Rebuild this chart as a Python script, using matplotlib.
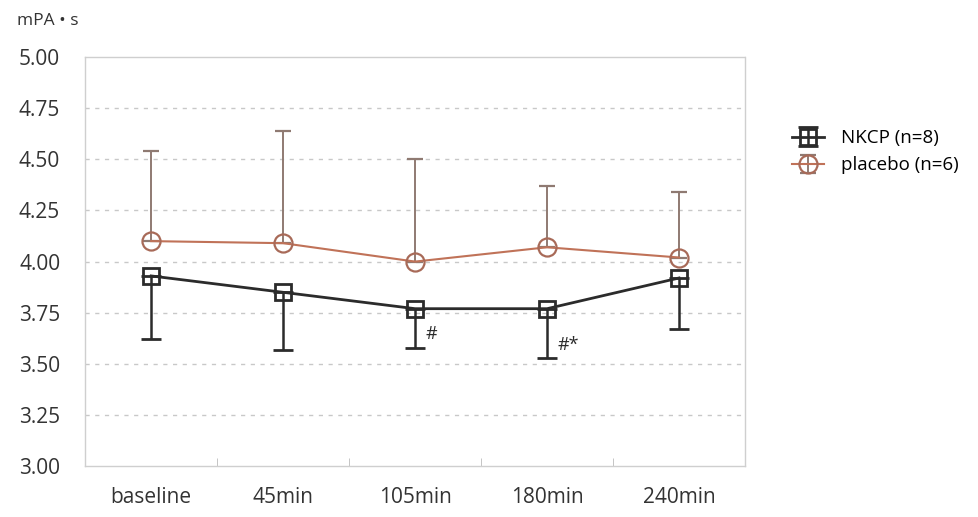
import matplotlib.pyplot as plt
import numpy as np

plt.rcParams['font.family'] = ['Open Sans', 'DejaVu Sans']

# data
times = ['baseline', '45min', '105min', '180min', '240min']
nkcp_mean = [3.93, 3.85, 3.77, 3.77, 3.92]
nkcp_lower = [3.62, 3.57, 3.58, 3.53, 3.67]
placebo_mean = [4.10, 4.09, 4.00, 4.07, 4.02]
placebo_upper = [4.54, 4.64, 4.50, 4.37, 4.34]
yticks = [3.00, 3.25, 3.50, 3.75, 4.00, 4.25, 4.50, 4.75, 5.00]

x = np.arange(len(times))
nkcp_err = np.array(nkcp_mean) - np.array(nkcp_lower)
placebo_err = np.array(placebo_upper) - np.array(placebo_mean)

fig = plt.figure(figsize=(9.79, 5.17), dpi=100)
ax = fig.add_axes([0.087, 0.098, 0.674, 0.792])

dark = '#2b2b2b'
orange = '#c07258'

# dashed grid
for y in yticks[1:-1]:
    ax.axhline(y, color='#c8c8c8', lw=1.0, ls=(0, (3, 4)), zorder=0)

ax.errorbar(x, placebo_mean, yerr=[np.zeros(len(x)), placebo_err],
            color=orange, ecolor='#8f7a72', lw=1.5, elinewidth=1.4,
            capsize=6, capthick=1.6, marker='o', ms=13, mfc='none',
            mec='#a86a58', mew=1.6, label='placebo (n=6)', zorder=3)
ax.errorbar(x, nkcp_mean, yerr=[nkcp_err, np.zeros(len(x))],
            color=dark, ecolor=dark, lw=2.0, elinewidth=1.8,
            capsize=7, capthick=2.0, marker='s', ms=11, mfc='none',
            mec=dark, mew=2.0, label='NKCP (n=8)', zorder=4)

ax.text(2.08, 3.62, '#', fontsize=13, color=dark)
ax.text(3.08, 3.57, '#*', fontsize=13, color=dark)

ax.set_xlim(-0.5, 4.5)
ax.set_ylim(3.0, 5.0)
ax.set_yticks(yticks)
ax.set_yticklabels(['%.2f' % v for v in yticks], fontsize=15, color='#333333')
ax.tick_params(axis='y', length=0, pad=18)
ax.set_xticks(x)
ax.set_xticklabels(times, fontsize=15, color='#333333')
ax.tick_params(axis='x', length=0, pad=15)
ax.set_xticks(x[:-1] + 0.5, minor=True)
ax.tick_params(axis='x', which='minor', direction='in', length=6, color='#bbbbbb')

for s in ax.spines.values():
    s.set_color('#cfcfcf')
    s.set_linewidth(1.0)
    s.set_linestyle((0, (1, 1)))
ax.spines['bottom'].set_linestyle('-')

fig.text(0.017, 0.952, 'mPA \u2022 s', fontsize=12.5, color='#333333')

handles, labels = ax.get_legend_handles_labels()
leg = fig.legend(handles[::-1], labels[::-1], loc='upper left',
                 bbox_to_anchor=(0.792, 0.783), frameon=False, fontsize=13.5,
                 handlelength=1.7, handletextpad=0.9, labelspacing=0.5)

fig.savefig('out.png', dpi=100)
